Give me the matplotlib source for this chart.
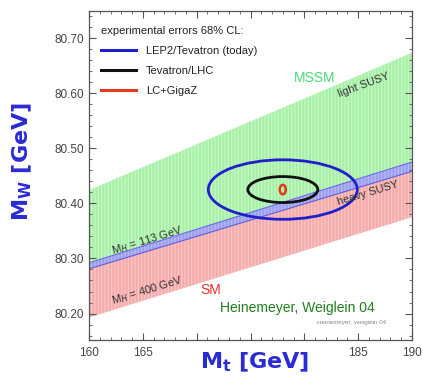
import numpy as np
import matplotlib
matplotlib.use("Agg")
import matplotlib.pyplot as plt
from matplotlib.patches import Ellipse
from matplotlib.lines import Line2D
from matplotlib.ticker import MultipleLocator

plt.rcParams['font.family'] = ['Liberation Sans', 'DejaVu Sans']
plt.rcParams['mathtext.fontset'] = 'dejavusans'
plt.rcParams['hatch.linewidth'] = 1.0

# band edges at mt = 160 and 190 GeV
mt_edges = [160, 190]
mssm_upper = [80.424, 80.673]     # light SUSY edge
sm_upper = [80.292, 80.475]       # top of overlap band
sm_mh113 = [80.281, 80.458]       # M_H = 113 GeV
sm_mh400 = [80.193, 80.375]       # M_H = 400 GeV

# 68% CL ellipses: (mt, mw, half width in mt, half width in mw)
center = (178.0, 80.425)
ell_names = ['LEP2/Tevatron (today)', 'Tevatron/LHC', 'LC+GigaZ']
ell_dmt = [6.92, 3.25, 0.28]
ell_dmw = [0.054, 0.0236, 0.0085]
ell_colors = ['#1f1fcc', '#111111', '#e03a1a']
ell_lw = [2.0, 2.0, 1.8]

x_major = [160, 165, 170, 175, 180, 185, 190]
x_labels = ['160', '165', '', '', '', '185', '190']
y_major = [80.20, 80.30, 80.40, 80.50, 80.60, 80.70]

fig = plt.figure(figsize=(4.23, 3.77), dpi=100)
ax = fig.add_axes([89 / 423, 37 / 377, 323 / 423, 329 / 377])

x = np.array(mt_edges)
ax.fill_between(x, sm_upper, mssm_upper, facecolor='#a6f0a6', edgecolor='#c4f7c4',
                hatch='|||||', linewidth=0, zorder=1)
ax.fill_between(x, sm_mh113, sm_upper, facecolor='#9a9cf0', edgecolor='#b8baf6',
                hatch='|||||', linewidth=0, zorder=1)
ax.fill_between(x, sm_mh400, sm_mh113, facecolor='#f5a9a9', edgecolor='#f9c6c6',
                hatch='|||||', linewidth=0, zorder=1)
ax.plot(x, sm_upper, color='#6c6ee0', lw=0.8, zorder=2)
ax.plot(x, sm_mh113, color='#5c5ed8', lw=0.8, zorder=2)

for dmt, dmw, c, lw in zip(ell_dmt, ell_dmw, ell_colors, ell_lw):
    ax.add_patch(Ellipse(center, 2 * dmt, 2 * dmw, facecolor='none',
                         edgecolor=c, lw=lw, zorder=3))

ax.set_xlim(160, 190)
ax.set_ylim(80.152, 80.749)
ax.set_xticks(x_major)
ax.set_xticklabels(x_labels)
ax.set_yticks(y_major)
ax.set_yticklabels(['%.2f' % v for v in y_major])
ax.xaxis.set_minor_locator(MultipleLocator(1))
ax.yaxis.set_minor_locator(MultipleLocator(0.02))
ax.tick_params(which='both', direction='in', top=True, right=True,
               colors='#555555', labelcolor='#444444', labelsize=8.5)
ax.tick_params(which='major', length=5)
ax.tick_params(which='minor', length=2.5)
ax.tick_params(axis='x', pad=5)
for s in ax.spines.values():
    s.set_color('#555555')
    s.set_linewidth(0.9)

handles = [Line2D([], [], color=c, lw=2.2) for c in ell_colors]
leg = ax.legend(handles, ell_names, loc='upper left', bbox_to_anchor=(0.036, 0.955),
                frameon=False, fontsize=8, title='experimental errors 68% CL:',
                title_fontsize=8, alignment='left', borderpad=0, borderaxespad=0,
                handlelength=3.2, handletextpad=0.9, labelspacing=0.9)
for t in leg.get_texts():
    t.set_color('#222222')
leg.get_title().set_color('#222222')

ax.text(181.0, 80.628, 'MSSM', color='#45dd78', fontsize=10, ha='center', va='center')
ax.text(185.5, 80.614, 'light SUSY', color='#333333', fontsize=8, rotation=20,
        ha='center', va='center')
ax.text(185.9, 80.418, 'heavy SUSY', color='#333333', fontsize=8, rotation=16.5,
        ha='center', va='center', zorder=4)
ax.text(165.4, 80.333, r'M$_H$ = 113 GeV', color='#333333', fontsize=8, rotation=17,
        ha='center', va='center')
ax.text(165.4, 80.241, r'M$_H$ = 400 GeV', color='#333333', fontsize=8, rotation=17,
        ha='center', va='center')
ax.text(171.3, 80.243, 'SM', color='#e03030', fontsize=10, ha='center', va='center')
ax.text(184.4, 80.183, 'Heinemeyer, Weiglein 04', color='#888888', fontsize=4.5,
        ha='center', va='center')

fig.text(297 / 423, 1 - 308 / 377, 'Heinemeyer, Weiglein 04', color='#1f7f1f',
         fontsize=10, ha='center', va='center', zorder=10,
         bbox=dict(facecolor='white', edgecolor='none', pad=4))

fig.text(255 / 423, 1 - 362 / 377, r'M$_\mathbf{t}$ [GeV]', color='#2b2bd6',
         fontsize=16, fontweight='bold', family='DejaVu Sans', ha='center', va='center',
         bbox=dict(facecolor='white', edgecolor='none', pad=2))
fig.text(22 / 423, 1 - 162 / 377, r'M$_\mathbf{W}$ [GeV]', color='#2b2bd6',
         fontsize=16, fontweight='bold', family='DejaVu Sans', rotation=90,
         ha='center', va='center')

fig.savefig('out.png', dpi=100)
